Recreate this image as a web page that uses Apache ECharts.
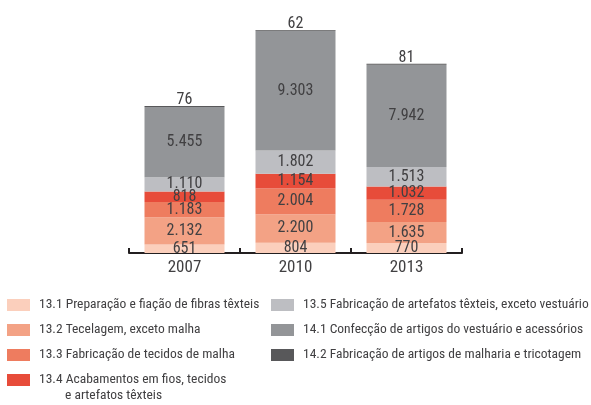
<!DOCTYPE html>
<html lang="pt-br">
<head>
    <meta charset="utf-8">
    <title>ECharts</title>
    <script src="https://cdn.jsdelivr.net/npm/echarts@6/dist/echarts.min.js"></script>
    <style>
        html, body { margin: 0; padding: 0; background: #fff; }
    </style>
</head>
<body>
    <div id="main" style="width: 591px;height:405px;"></div>
    <script type="text/javascript">
        // dados
        var anos = ['2007', '2010', '2013'];
        var nomes = [
            '13.1 Preparação e fiação de fibras têxteis',
            '13.2 Tecelagem, exceto malha',
            '13.3 Fabricação de tecidos de malha',
            '13.4 Acabamentos em fios, tecidos',
            '13.5 Fabricação de artefatos têxteis, exceto vestuário',
            '14.1 Confecção de artigos do vestuário e acessórios',
            '14.2 Fabricação de artigos de malharia e tricotagem'
        ];
        var s131 = [651, 804, 770];
        var s132 = [2132, 2200, 1635];
        var s133 = [1183, 2004, 1728];
        var s134 = [818, 1154, 1032];
        var s135 = [1110, 1802, 1513];
        var s141 = [5455, 9303, 7942];
        var s142 = [76, 62, 81];

        var valores = [s131, s132, s133, s134, s135, s141, s142];
        var cores = ['#fbcfbc', '#f3a285', '#ee7c5f', '#e74c3a', '#bdbec2', '#939598', '#58585a'];

        var fonte = '"Roboto Condensed", sans-serif';
        var corTexto = '#414042';

        function fmt(v) {
            return String(v).replace(/\B(?=(\d{3})+(?!\d))/g, '.');
        }

        var myChart = echarts.init(document.getElementById('main'));

        var series = valores.map(function (d, i) {
            var topo = i === valores.length - 1;
            return {
                name: nomes[i],
                type: 'bar',
                stack: 'total',
                barWidth: 80,
                barMinHeight: topo ? 1 : 0,
                data: d,
                itemStyle: { color: cores[i] },
                label: {
                    show: true,
                    position: topo ? 'top' : 'inside',
                    distance: topo ? -2 : 0,
                    color: corTexto,
                    fontFamily: fonte,
                    fontSize: 16,
                    formatter: function (p) { return fmt(p.value); }
                },
                emphasis: { disabled: true }
            };
        });

        var legendaBase = {
            orient: 'vertical',
            top: 298,
            padding: 0,
            itemWidth: 23,
            itemHeight: 12,
            itemGap: 11,
            icon: 'rect',
            selectedMode: false,
            textStyle: { color: corTexto, fontFamily: fonte, fontSize: 13.5, lineHeight: 12, padding: [0, 0, 0, 4] }
        };

        var option = {
            animation: false,
            grid: { left: 129, right: 129, top: 30, bottom: 152 },
            xAxis: {
                type: 'category',
                data: anos,
                axisLine: { lineStyle: { color: '#231f20', width: 2 } },
                axisTick: { show: true, interval: 0, inside: true, length: 5, lineStyle: { color: '#231f20', width: 2 } },
                axisLabel: { color: corTexto, fontFamily: fonte, fontSize: 17, margin: 6 }
            },
            yAxis: {
                type: 'value',
                min: 0,
                max: 'dataMax',
                show: false
            },
            legend: [
                Object.assign({}, legendaBase, { left: 7, data: nomes.slice(0, 4) }),
                Object.assign({}, legendaBase, { left: 271, data: nomes.slice(4) })
            ],
            graphic: [{
                type: 'text',
                left: 65,
                top: 389,
                style: {
                    text: 'e artefatos têxteis',
                    fill: corTexto,
                    font: '13.5px ' + fonte
                }
            }],
            series: series
        };

        myChart.setOption(option);
    </script>
</body>
</html>
